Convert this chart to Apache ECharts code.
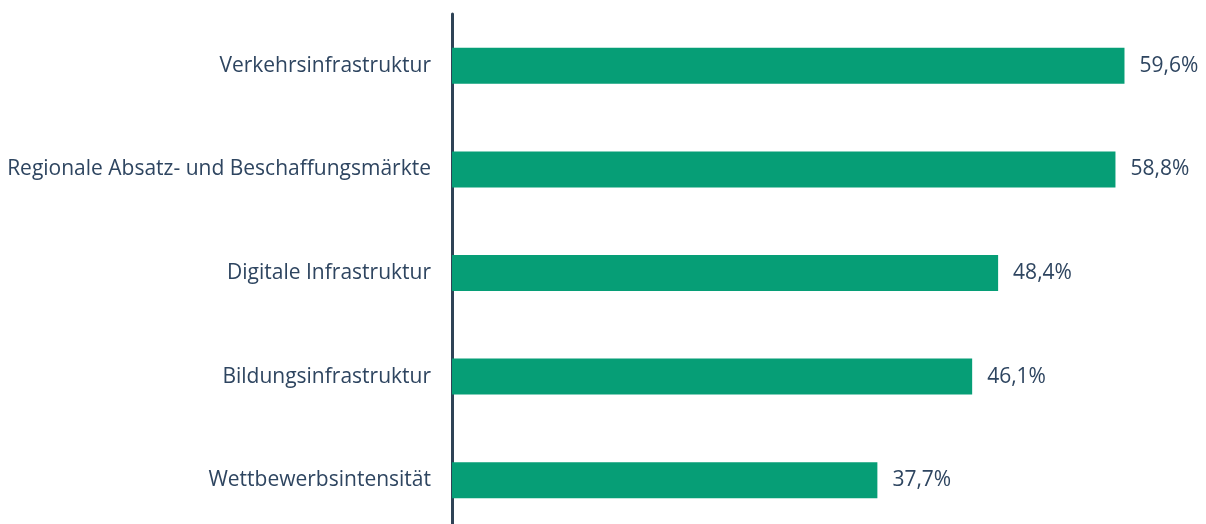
<!DOCTYPE html>
<html>
<head>
<meta charset="utf-8">
<script src="https://cdn.jsdelivr.net/npm/echarts@6/dist/echarts.min.js"></script>
<style>html,body{margin:0;padding:0;background:#fff}#c{width:1206px;height:524px}</style>
</head>
<body>
<div id="c"></div>
<script>
var categories = ["Verkehrsinfrastruktur", "Regionale Absatz- und Beschaffungsmärkte", "Digitale Infrastruktur", "Bildungsinfrastruktur", "Wettbewerbsintensität"];
var values = [59.6, 58.8, 48.4, 46.1, 37.7];

var chart = echarts.init(document.getElementById('c'));
var textColor = '#2E4560';
var fontFamily = '"Open Sans", sans-serif';
chart.setOption({
  animation: false,
  grid: { left: 452, top: 14, width: 677, height: 518, outerBoundsMode: 'none' },
  xAxis: {
    type: 'value', min: 0, max: 60,
    show: false
  },
  yAxis: {
    type: 'category',
    data: categories,
    inverse: true,
    axisLine: { show: true, lineStyle: { color: '#2F4356', width: 3 } },
    axisTick: { show: false },
    axisLabel: { color: textColor, fontSize: 21, fontFamily: fontFamily, margin: 21, padding: [3, 0, 0, 0] }
  },
  series: [{
    type: 'bar',
    data: values,
    barWidth: 36,
    itemStyle: { color: '#069E76' },
    label: {
      show: true, position: 'right', distance: 15,
      color: textColor, fontSize: 21, fontFamily: fontFamily, padding: [3, 0, 0, 0],
      formatter: function (p) { return p.value.toFixed(1).replace('.', ',') + '%'; }
    }
  }]
});
</script>
</body>
</html>
